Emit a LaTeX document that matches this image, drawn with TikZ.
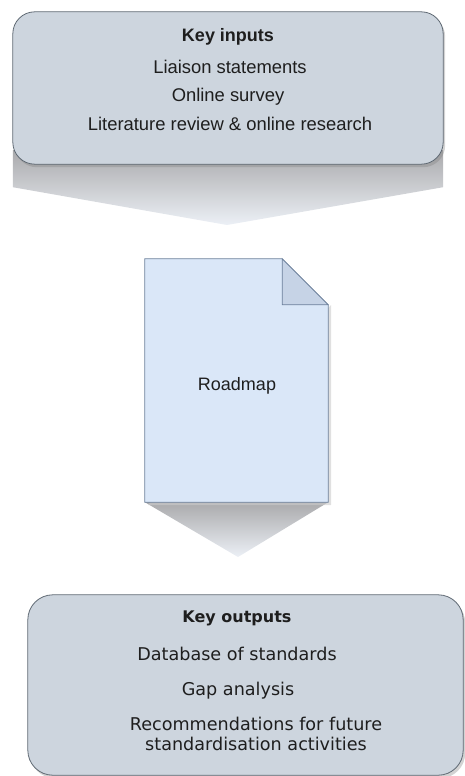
\documentclass[tikz,border=0pt]{standalone}
\usepackage{fontspec}
\setmainfont{Liberation Sans}
\newfontfamily\dvs{DejaVu Sans}
\usetikzlibrary{shadows}
\definecolor{boxfill}{RGB}{205,213,222}
\definecolor{boxline}{RGB}{95,105,115}
\definecolor{docfill}{RGB}{218,231,248}
\definecolor{foldfill}{RGB}{198,211,230}
\definecolor{docline}{RGB}{108,128,155}
\definecolor{txt}{RGB}{30,30,30}
\definecolor{arrtop}{RGB}{170,170,172}
\definecolor{arrbot}{RGB}{236,240,246}
\begin{document}
\begin{tikzpicture}[x=1pt,y=-1pt,
  keybox/.style={draw=boxline, line width=0.8pt, fill=boxfill, rounded corners=22pt,
    drop shadow={shadow xshift=2pt, shadow yshift=-3pt, opacity=0.35}},
  lbl/.style={inner sep=0pt, text=txt, text height=0.72em, text depth=0.2em},
  inlbl/.style={lbl, font=\fontsize{18.4}{21}\selectfont},
  outlbl/.style={lbl, font=\dvs\fontsize{17.6}{20}\selectfont},
  funnel/.style={top color=arrtop, bottom color=arrbot, draw=none}
]
\useasboundingbox (0,0) rectangle (464,776);

% nodes (geometry holders)
\node[minimum width=430pt, minimum height=152pt, inner sep=0pt] (inputs) at (228,88) {};
\node[minimum width=183pt, minimum height=243pt, inner sep=0pt] (doc) at (236.5,380.5) {};
\node[minimum width=435pt, minimum height=180pt, inner sep=0pt] (outputs) at (245.5,685) {};
\coordinate (tip1) at (227,225);
\coordinate (tip2) at (238,557);

% funnel arrow from inputs to document
\shade[funnel] ([yshift=14pt]inputs.south west) -- ([yshift=14pt]inputs.south east)
  -- ([yshift=-23pt]inputs.south east) -- (tip1) -- ([yshift=-23pt]inputs.south west) -- cycle;

% inputs box
\path[keybox] (inputs.south west) rectangle (inputs.north east);
\node[inlbl, font=\bfseries\fontsize{18}{21}\selectfont] (kin) at (228,39) {Key inputs};
\node[inlbl] (in1) at (230,71) {Liaison statements};
\node[inlbl] (in2) at (228,99) {Online survey};
\node[inlbl] (in3) at (230,128) {Literature review \& online research};

% funnel arrow from document to outputs
\shade[funnel] (doc.south west) -- (doc.south east) -- (tip2) -- cycle;

% document
\coordinate (fold) at ([xshift=-46pt]doc.north east);
\coordinate (foldb) at ([yshift=-46pt]doc.north east);
\fill[gray!40, opacity=0.6] ([xshift=3pt,yshift=-3pt]doc.south west) -- ([xshift=3pt,yshift=-3pt]doc.south east)
  -- ([xshift=3pt,yshift=-3pt]foldb) -- ([xshift=3pt]foldb) -- cycle;
\draw[docline, fill=docfill, line width=0.8pt] (doc.north west) -- (fold) -- (foldb)
  -- (doc.south east) -- (doc.south west) -- cycle;
\draw[docline, fill=foldfill, line width=0.8pt] (fold) -- (fold |- foldb) -- (foldb) -- cycle;
\node[inlbl, font=\fontsize{18}{21}\selectfont] (rm) at (237,388) {Roadmap};

% outputs box
\path[keybox, rounded corners=25pt] (outputs.south west) rectangle (outputs.north east);
\node[outlbl, font=\dvs\bfseries\fontsize{16}{19}\selectfont] (kout) at (237,620) {Key outputs};
\node[outlbl] (out1) at (237,658) {Database of standards};
\node[outlbl] (out2) at (238,693) {Gap analysis};
\node[outlbl] (out3) at (256,728) {Recommendations for future};
\node[outlbl] (out4) at (256,748) {standardisation activities};
\end{tikzpicture}
\end{document}
